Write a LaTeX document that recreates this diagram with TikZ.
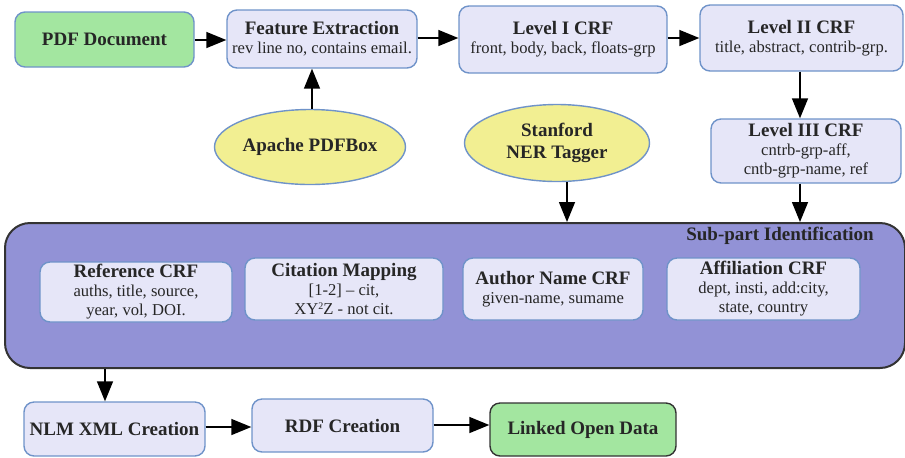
\documentclass[tikz,border=0pt]{standalone}
\usepackage{fontspec}
\setmainfont{Liberation Serif}
\usetikzlibrary{shapes,arrows.meta}
\definecolor{boxfill}{HTML}{E6E6F8}
\definecolor{boxline}{HTML}{6F93C9}
\definecolor{greenfill}{HTML}{A3E6A0}
\definecolor{ovalfill}{HTML}{F2EF92}
\definecolor{subfill}{HTML}{9292D6}
\definecolor{darkline}{HTML}{333333}
\newcommand{\boxtitle}[1]{{\fontsize{9.5}{10}\selectfont\bfseries #1}}
\tikzset{
  stagebox/.style = {draw=boxline, fill=boxfill, line width=0.7pt, rounded corners=5pt,
                     align=center, inner sep=1pt, text=black!85,
                     font=\rmfamily\fontsize{8.3}{9.5}\selectfont},
  greenbox/.style = {stagebox, fill=greenfill},
  toolnode/.style = {draw=boxline, fill=ovalfill, line width=0.7pt, ellipse,
                     align=center, inner sep=0pt, text=black!85,
                     font=\rmfamily\fontsize{9.5}{11}\selectfont\bfseries},
  flow/.style     = {line width=0.75pt, -{Triangle[length=10pt,width=8pt]}}
}

\begin{document}
\begin{tikzpicture}[x=0.5pt, y=-0.5pt]
  \useasboundingbox (0,0) rectangle (905,457);
  % top row
  \node[greenbox, minimum width=89.5pt, minimum height=27.5pt] (pdf) at (104.5,39.5)
    {\boxtitle{PDF Document}};
  \node[stagebox, minimum width=95pt, minimum height=29pt] (feat) at (322,39)
    {\boxtitle{Feature Extraction}\\ rev line no, contains email.};
  \node[stagebox, minimum width=104pt, minimum height=33.5pt] (lvlone) at (563,39.5)
    {\boxtitle{Level I CRF}\\ front, body, back, floats-grp};
  \node[stagebox, minimum width=101.5pt, minimum height=33pt] (lvltwo) at (801.5,38)
    {\boxtitle{Level II CRF}\\ title, abstract, contrib-grp.};
  \node[stagebox, minimum width=95pt, minimum height=32pt] (lvlthree) at (806,151)
    {\boxtitle{Level III CRF}\\ cntrb-grp-aff,\\ cntb-grp-name, ref};
  % tools
  \node[toolnode, minimum width=95.5pt, minimum height=37.5pt] (pdfbox) at (310,147)
    {Apache PDFBox};
  \node[toolnode, minimum width=92.5pt, minimum height=38.5pt] (ner) at (557,143)
    {Stanford\\NER Tagger};
  % sub-part identification
  \node[draw=darkline, fill=subfill, line width=1pt, rounded corners=12.5pt,
        minimum width=450pt, minimum height=72.5pt] (subpart) at (455,295.5) {};
  \node[text=black!85, font=\rmfamily] (subtitle) at (780,236)
    {\boxtitle{Sub-part Identification}};
  \node[stagebox, minimum width=96pt, minimum height=30pt] (refcrf) at (136,292)
    {\boxtitle{Reference CRF}\\ auths, title, source,\\ year, vol, DOI.};
  \node[stagebox, minimum width=99pt, minimum height=31pt] (citmap) at (344,289)
    {\boxtitle{Citation Mapping}\\ {[1-2]} -- cit,\\ XY\raisebox{0.6ex}{\fontsize{5}{5}\selectfont 2}Z - not cit.};
  \node[stagebox, minimum width=90pt, minimum height=31pt] (authcrf) at (553,289)
    {\boxtitle{Author Name CRF}\\ given-name, sumame};
  \node[stagebox, minimum width=96.5pt, minimum height=31pt] (affcrf) at (763.5,289)
    {\boxtitle{Affiliation CRF}\\ dept, insti, add:city,\\ state, country};
  % bottom row
  \node[stagebox, minimum width=90.5pt, minimum height=27pt] (nlm) at (114.5,429)
    {\boxtitle{NLM XML Creation}};
  \node[stagebox, minimum width=90.5pt, minimum height=26.5pt] (rdf) at (342.5,425.5)
    {\boxtitle{RDF Creation}};
  \node[greenbox, draw=darkline, minimum width=93pt, minimum height=26.5pt] (lod) at (583,429.5)
    {\boxtitle{Linked Open Data}};
  % connectors
  \draw[flow] (pdf.east |- 0,40) -- (feat.west |- 0,40);
  \draw[flow] (pdfbox.north -| 312,0) -- (feat.south -| 312,0);
  \draw[flow] (feat.east |- 0,38) -- (lvlone.west |- 0,38);
  \draw[flow] (lvlone.east |- 0,38) -- (lvltwo.west |- 0,38);
  \draw[flow] (lvltwo.south -| 800,0) -- (lvlthree.north -| 800,0);
  \draw[flow] (lvlthree.south -| 800,0) -- (subpart.north -| 800,0);
  \draw[flow] (ner.south -| 567,0) -- (subpart.north -| 567,0);
  \draw[flow] (subpart.south -| 105,0) -- (nlm.north -| 105,0);
  \draw[flow] (nlm.east |- 0,427) -- (rdf.west |- 0,427);
  \draw[flow] (rdf.east |- 0,425) -- (lod.west |- 0,425);
\end{tikzpicture}
\end{document}
